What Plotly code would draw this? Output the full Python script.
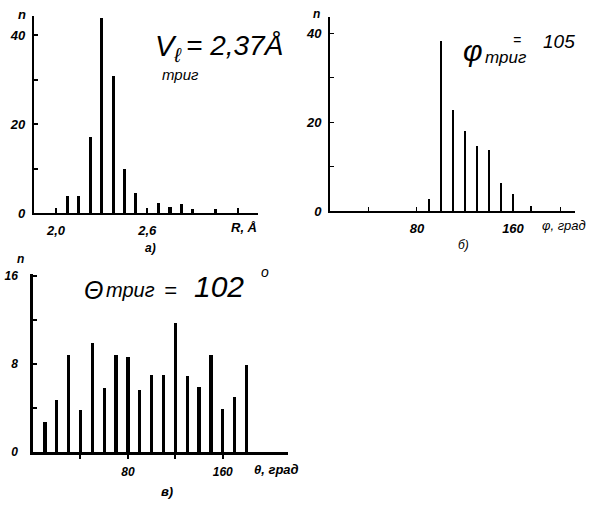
import plotly.graph_objects as go

# ---- data ----
r_values = [2.075, 2.15, 2.225, 2.3, 2.375, 2.45, 2.525, 2.675, 2.75, 2.825, 2.9, 3.05]
r_counts = [3.8, 3.8, 17.1, 44, 30.8, 9.9, 4.6, 2.4, 1.3, 2.0, 1.0, 1.0]
r_tickvals = [2.0, 2.6]
r_ticktext = ["2,0", "2,6"]
r_minor = [3.2]

phi_values = [90, 100, 110, 120, 130, 140, 150, 160, 175]
phi_counts = [2.7, 38.5, 22.9, 18.1, 14.7, 13.9, 6.4, 4.0, 1.2]
phi_tickvals = [80, 160]
phi_ticktext = ["80", "160"]
phi_minor = [40, 120, 200]

theta_values = [10, 20, 30, 40, 50, 60, 70, 80, 90, 100, 110, 120, 130, 140, 150, 160, 170, 180]
theta_counts = [2.75, 4.8, 8.9, 3.9, 10.0, 5.9, 8.9, 8.7, 5.7, 7.1, 7.1, 11.8, 7.0, 6.0, 8.9, 4.0, 5.1, 8.0]
theta_tickvals = [80, 160]
theta_ticktext = ["80", "160"]
theta_minor = [40, 120]

n_tickvals_ab = [0, 20, 40]
n_ticktext_ab = ["0", "20", "40"]
n_minor_ab = [10, 30]
n_tickvals_c = [0, 8, 16]
n_ticktext_c = ["0", "8", "16"]
n_minor_c = [4, 12]

W, H = 591, 511


def px(x):
    return x / W


def py(y):
    return 1 - y / H


fig = go.Figure()
fig.add_trace(go.Bar(x=r_values, y=r_counts, width=0.02, marker_color="black",
                     marker_line_width=0, xaxis="x", yaxis="y"))
fig.add_trace(go.Bar(x=phi_values, y=phi_counts, width=1.8, marker_color="black",
                     marker_line_width=0, xaxis="x2", yaxis="y2"))
fig.add_trace(go.Bar(x=theta_values, y=theta_counts, width=2.8, marker_color="black",
                     marker_line_width=0, xaxis="x3", yaxis="y3"))

tickfont = dict(family="Liberation Sans", size=13, color="black", style="italic", weight="bold")
tickfont_c = dict(family="Liberation Sans", size=12, color="black", style="italic", weight="bold")

common = dict(showgrid=False, zeroline=False, showline=True, linecolor="black",
              tickcolor="black", fixedrange=True)


def minor(vals, ticks, ticklen, tickwidth):
    return dict(tickmode="array", tickvals=vals, ticks=ticks, ticklen=ticklen,
                tickwidth=tickwidth, tickcolor="black", showgrid=False)


fig.update_layout(
    width=W, height=H,
    margin=dict(l=0, r=0, t=0, b=0),
    paper_bgcolor="white", plot_bgcolor="white",
    showlegend=False, bargap=0,
    xaxis=dict(domain=[px(34), px(258)], range=[1.855, 3.329], anchor="y",
               tickvals=r_tickvals, ticktext=r_ticktext, ticks="inside", ticklen=5,
               tickwidth=1.5, linewidth=2.2, tickfont=tickfont, ticklabelstandoff=4,
               minor=minor(r_minor, "inside", 5, 1.5), **common),
    yaxis=dict(domain=[py(214), py(12)], range=[0, 44.4], anchor="x",
               tickvals=n_tickvals_ab, ticktext=n_ticktext_ab, ticks="inside", ticklen=4,
               tickwidth=1.5, linewidth=2.2, tickfont=tickfont, ticklabelstandoff=4,
               minor=minor(n_minor_ab, "inside", 4, 1.5), **common),
    xaxis2=dict(domain=[px(330), px(575)], range=[7.5, 211.7], anchor="y2",
                tickvals=phi_tickvals, ticktext=phi_ticktext, ticks="inside", ticklen=4,
                tickwidth=1.2, linewidth=2, tickfont=tickfont, ticklabelstandoff=4,
                minor=minor(phi_minor, "inside", 4, 1.2), **common),
    yaxis2=dict(domain=[py(212), py(13)], range=[0, 43.8], anchor="x2",
                tickvals=n_tickvals_ab, ticktext=n_ticktext_ab, ticks="inside", ticklen=4,
                tickwidth=1.2, linewidth=2, tickfont=tickfont, ticklabelstandoff=4,
                minor=minor(n_minor_ab, "inside", 4, 1.2), **common),
    xaxis3=dict(domain=[px(33), px(288)], range=[0, 215], anchor="y3",
                tickvals=theta_tickvals, ticktext=theta_ticktext, ticks="outside", ticklen=4,
                tickwidth=1.5, linewidth=2.5, tickfont=tickfont_c, ticklabelstandoff=3,
                minor=minor(theta_minor, "outside", 4, 1.5), **common),
    yaxis3=dict(domain=[py(459), py(276)], range=[0, 16.24], anchor="x3",
                tickvals=n_tickvals_c, ticktext=n_ticktext_c, ticks="inside", ticklen=4,
                tickwidth=1.5, linewidth=2.5, tickfont=tickfont_c, ticklabelstandoff=10,
                minor=minor(n_minor_c, "inside", 4, 1.5), **common),
)

hand = "Liberation Sans"


def ann(text, x, y, size, xanchor="center", style="italic", weight="normal", family=hand):
    fig.add_annotation(text=text, x=px(x), y=py(y), xref="paper", yref="paper",
                       xanchor=xanchor, yanchor="middle", showarrow=False,
                       font=dict(family=family, size=size, color="black", style=style, weight=weight))


# axis names
ann("n", 22, 11, 13, weight="bold")
ann("n", 316, 10, 12, weight="bold")
ann("n", 20, 261, 12, weight="bold")
ann("R, Å", 244, 229, 13, weight="bold")
ann("φ, град", 564, 227, 13)
ann("θ, град", 276, 477, 13, weight="bold")

# panel letters
ann("а)", 150, 250, 12, weight="bold")
ann("б)", 463, 247, 12)
ann("в)", 167, 499, 13, weight="bold")

# panel a handwritten value
ann("V<sub>ℓ</sub>", 168, 45, 29)
ann("= 2,37Å", 184, 42, 28, xanchor="left")
ann("триг", 180, 72, 15)

# panel b handwritten value
ann("φ", 473, 48, 30)
ann("триг", 505, 55, 17)
ann("=", 517, 37, 14)
ann("105", 559, 38, 19)

# panel c handwritten value
ann("Θ", 93, 293, 25)
ann("триг", 130, 293, 20)
ann("=", 170, 293, 22)
ann("102", 219, 289, 30)
ann("o", 265, 274, 14)

fig.write_html("out.html", config={"displayModeBar": False},
               post_script="document.body.style.margin='0px';document.body.style.overflow='hidden';")
